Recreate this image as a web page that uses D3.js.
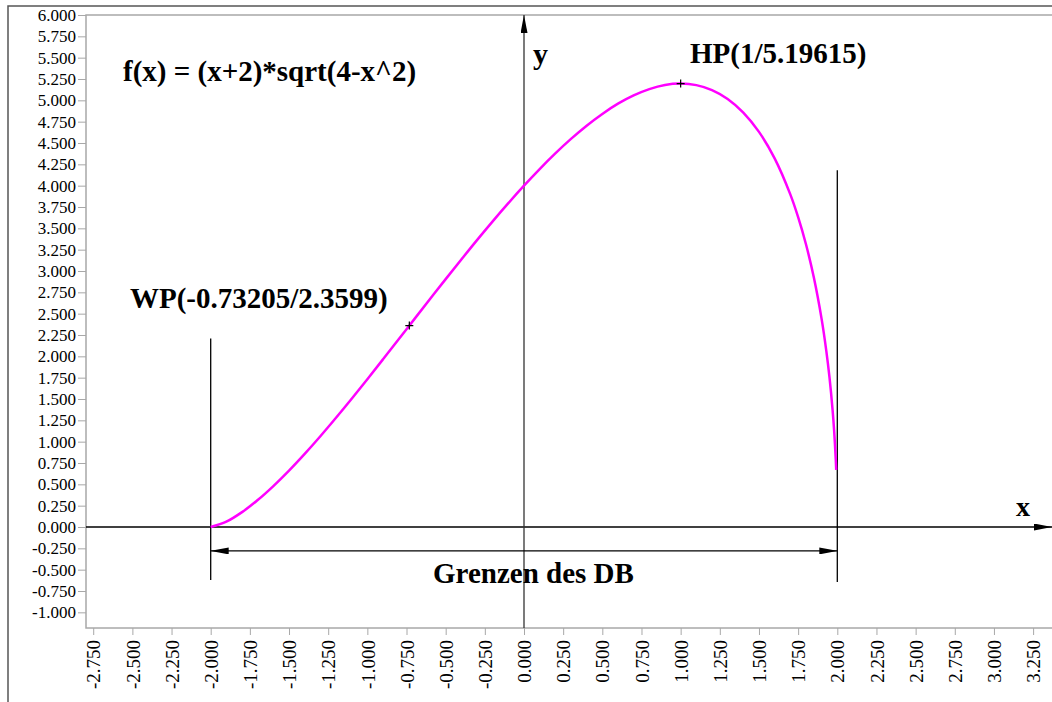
<!DOCTYPE html>
<html>
<head>
<meta charset="utf-8">
<script src="https://cdn.jsdelivr.net/npm/d3@7"></script>
<style>
  body { margin: 0; background: #fff; }
  svg { display: block; }
  text { font-family: "Liberation Serif", "Times New Roman", serif; fill: #000; }
  .note { font-weight: bold; }
</style>
</head>
<body>
<div id="chart"></div>
<script>
// curve points: f(x) = (x+2)*sqrt(4-x^2)
const curveX = [-2, -1.9, -1.8, -1.7, -1.6, -1.5, -1.4, -1.3, -1.2, -1.1, -1.0,
  -0.9, -0.8, -0.7, -0.6, -0.5, -0.4, -0.3, -0.2, -0.1, 0,
  0.1, 0.2, 0.3, 0.4, 0.5, 0.6, 0.7, 0.8, 0.9, 1.0,
  1.1, 1.2, 1.3, 1.4, 1.5, 1.6, 1.7, 1.75, 1.8, 1.85, 1.9, 1.93, 1.95, 1.97, 1.98, 1.99, 1.993];
const curveY = [0, 0.062, 0.174, 0.316, 0.48, 0.661, 0.857, 1.064, 1.28, 1.503, 1.732,
  1.965, 2.2, 2.436, 2.671, 2.905, 3.135, 3.362, 3.582, 3.795, 4.0,
  4.195, 4.378, 4.548, 4.703, 4.841, 4.961, 5.058, 5.132, 5.18, 5.196,
  5.178, 5.12, 5.016, 4.856, 4.63, 4.32, 3.898, 3.631, 3.313, 2.926, 2.436, 2.061, 1.755, 1.37, 1.123, 0.797, 0.669];

// marked points
const pointNames = ['WP', 'HP'];
const pointX = [-0.73205, 1];
const pointY = [2.3599, 5.19615];

// domain boundaries (vertical lines) and their extents
const boundX = [-2, 2];
const boundTop = [2.21, 4.18];
const boundBottom = [-0.62, -0.645];

// tick values
const xTicks = d3.range(-11, 14).map(i => i * 0.25);   // -2.75 .. 3.25
const yTicks = d3.range(-4, 25).map(i => i * 0.25);    // -1.00 .. 6.00

const width = 1052, height = 702;

const x = d3.scaleLinear().domain([-2, 2]).range([210.7, 837.3]);
const y = d3.scaleLinear().domain([0, 6]).range([527, 15]);

const plotLeft = 86, plotTop = 15, plotRight = 1062, plotBottom = 628;

const fmt = d3.formatLocale({ decimal: '.', thousands: ',', grouping: [3], currency: ['', ''], minus: '-' }).format('.3f');

const svg = d3.select('#chart').append('svg')
  .attr('width', width)
  .attr('height', height);

svg.append('rect').attr('width', width).attr('height', height).attr('fill', '#fff');

// outer frame
svg.append('rect')
  .attr('x', 8).attr('y', 6)
  .attr('width', width + 20).attr('height', height + 20)
  .attr('fill', 'none').attr('stroke', '#555').attr('stroke-width', 1.5);

// plot frame
svg.append('rect')
  .attr('x', plotLeft).attr('y', plotTop)
  .attr('width', plotRight - plotLeft).attr('height', plotBottom - plotTop)
  .attr('fill', 'none').attr('stroke', '#a8a8a8').attr('stroke-width', 1.5);

// y axis labels (left)
const yAxis = svg.append('g')
  .attr('transform', `translate(${plotLeft},0)`)
  .call(d3.axisLeft(y).tickValues(yTicks).tickFormat(fmt).tickSize(8).tickPadding(2));
yAxis.select('.domain').remove();
yAxis.selectAll('line').attr('stroke', '#a8a8a8');
yAxis.selectAll('text')
  .style('font-family', '"Liberation Serif", serif')
  .style('font-size', '17px')
  .attr('fill', '#000');

// x axis labels (bottom, rotated)
const xAxis = svg.append('g')
  .attr('transform', `translate(0,${plotBottom})`)
  .call(d3.axisBottom(x).tickValues(xTicks).tickFormat(fmt).tickSize(7));
xAxis.select('.domain').remove();
xAxis.selectAll('line').attr('stroke', '#a8a8a8');
xAxis.selectAll('text')
  .style('font-family', '"Liberation Serif", serif')
  .style('font-size', '19px')
  .attr('fill', '#000')
  .attr('text-anchor', 'end')
  .attr('transform', 'rotate(-90)')
  .attr('x', -12)
  .attr('y', 0)
  .attr('dy', '0.35em');

// arrow markers
const defs = svg.append('defs');
defs.append('marker')
  .attr('id', 'arrowLong')
  .attr('viewBox', '0 0 18 7')
  .attr('refX', 18).attr('refY', 3.5)
  .attr('markerWidth', 18).attr('markerHeight', 7)
  .attr('markerUnits', 'userSpaceOnUse')
  .attr('orient', 'auto-start-reverse')
  .append('path').attr('d', 'M0,0 L18,3.5 L0,7 Z').attr('fill', '#000');

// x axis line with arrow
svg.append('line')
  .attr('x1', plotLeft).attr('x2', 1052)
  .attr('y1', y(0)).attr('y2', y(0))
  .attr('stroke', '#000').attr('stroke-width', 1.3)
  .attr('marker-end', 'url(#arrowLong)');

// y axis line with arrow
svg.append('line')
  .attr('x1', x(0)).attr('x2', x(0))
  .attr('y1', plotBottom).attr('y2', plotTop)
  .attr('stroke', '#333').attr('stroke-width', 1.3)
  .attr('marker-end', 'url(#arrowLong)');

// domain boundary lines
svg.append('g').selectAll('line')
  .data(boundX)
  .join('line')
  .attr('x1', d => x(d)).attr('x2', d => x(d))
  .attr('y1', (d, i) => y(boundTop[i]))
  .attr('y2', (d, i) => y(boundBottom[i]))
  .attr('stroke', '#000').attr('stroke-width', 1.3);

// double arrow "Grenzen des DB"
svg.append('line')
  .attr('x1', x(boundX[0])).attr('x2', x(boundX[1]))
  .attr('y1', y(-0.28)).attr('y2', y(-0.28))
  .attr('stroke', '#000').attr('stroke-width', 1.3)
  .attr('marker-start', 'url(#arrowLong)')
  .attr('marker-end', 'url(#arrowLong)');

// function curve
const line = d3.line()
  .x(d => x(d[0]))
  .y(d => y(d[1]))
  .curve(d3.curveCatmullRom.alpha(0.5));

svg.append('path')
  .datum(curveX.map((v, i) => [v, curveY[i]]))
  .attr('d', line)
  .attr('fill', 'none')
  .attr('stroke', '#ff00ff')
  .attr('stroke-width', 2.5);

// point crosses
svg.append('g').selectAll('path')
  .data(pointX)
  .join('path')
  .attr('d', (d, i) => {
    const cx = x(d), cy = y(pointY[i]);
    return `M${cx - 4},${cy}H${cx + 4}M${cx},${cy - 4}V${cy + 4}`;
  })
  .attr('stroke', '#000').attr('stroke-width', 1.2);

// annotations
svg.append('text').attr('class', 'note')
  .attr('x', 123).attr('y', 81)
  .style('font-size', '29px')
  .text('f(x) = (x+2)*sqrt(4-x^2)');

svg.append('text').attr('class', 'note')
  .attr('x', 690).attr('y', 63)
  .style('font-size', '29px')
  .text(`${pointNames[1]}(${pointX[1]}/${pointY[1]})`);

svg.append('text').attr('class', 'note')
  .attr('x', 130).attr('y', 308)
  .style('font-size', '29px')
  .text(`${pointNames[0]}(${pointX[0]}/${pointY[0]})`);

svg.append('text').attr('class', 'note')
  .attr('x', 433).attr('y', 583)
  .style('font-size', '29px')
  .text('Grenzen des DB');

svg.append('text').attr('class', 'note')
  .attr('x', 533).attr('y', 64)
  .style('font-size', '30px')
  .text('y');

svg.append('text').attr('class', 'note')
  .attr('x', 1016).attr('y', 516)
  .style('font-size', '28px')
  .text('x');
</script>
</body>
</html>
